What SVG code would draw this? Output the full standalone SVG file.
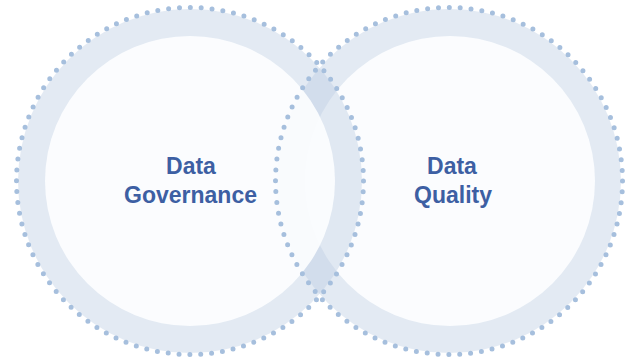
<svg xmlns="http://www.w3.org/2000/svg" width="635" height="362" viewBox="0 0 635 362">
  <style>
    .band { fill: #b8cbe2; fill-opacity: 0.4; }
    .inner { fill: #fdfeff; fill-opacity: 0.9; }
    .dots { fill: none; stroke: #a6bfdd; stroke-width: 5; stroke-linecap: round; stroke-dasharray: 0 10.9013; }
    .label { font-family: "Liberation Sans", Arial, sans-serif; font-weight: bold; font-size: 23px; fill: #3d5fa3; text-anchor: middle; }
  </style>
  <rect width="635" height="362" fill="#ffffff"/>
  <g id="node-data-quality">
    <circle class="band" cx="449" cy="181" r="172"/>
    <circle class="inner" cx="450" cy="181" r="145"/>
    <text class="label" x="452" y="174">Data</text>
    <text class="label" x="453" y="203">Quality</text>
  </g>
  <g id="node-data-governance">
    <circle class="band" cx="190" cy="181" r="172"/>
    <circle class="inner" cx="190" cy="181" r="145"/>
    <text class="label" x="191" y="174">Data</text>
    <text class="label" x="190.5" y="203">Governance</text>
  </g>
  <g id="connectors">
    <circle class="dots" cx="190" cy="181" r="173.5"/>
    <circle class="dots" cx="449" cy="181" r="173.5"/>
  </g>
</svg>
